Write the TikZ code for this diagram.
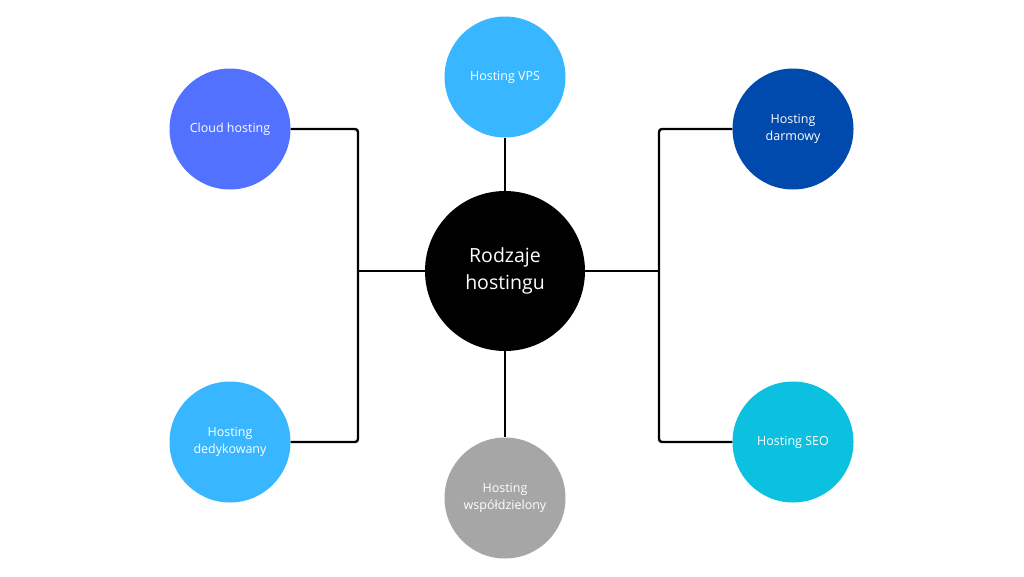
\documentclass[tikz,border=0pt]{standalone}
\usepackage{fontspec}
\setmainfont{Open Sans}
\usetikzlibrary{positioning,calc}

\definecolor{cloudblue}{HTML}{5271FF}
\definecolor{skyblue}{HTML}{38B6FF}
\definecolor{navyblue}{HTML}{004AAD}
\definecolor{tealblue}{HTML}{0CC0DF}
\definecolor{midgray}{HTML}{A6A6A6}

\begin{document}
\begin{tikzpicture}[x=1pt,y=-1pt,
  leaf/.style={circle,minimum size=121pt,inner sep=0pt,text=white,
    align=center,font=\fontsize{12.5}{17}\selectfont},
  root/.style={circle,fill=black,minimum size=160pt,inner sep=0pt,
    text=white,align=center,font=\fontsize{19.5}{27}\selectfont},
  wire/.style={line width=2.4pt,rounded corners=3pt}]

\useasboundingbox (0,0) rectangle (1024,576);

\node[root] (hub) at (505,271) {Rodzaje\\hostingu};

\node[leaf,fill=skyblue] (vps) at (505,77) {Hosting VPS};
\node[leaf,fill=midgray] (shared) at (505,498) {Hosting\\współdzielony};
\node[leaf,fill=cloudblue] (cloud) at (230,129) {Cloud hosting};
\node[leaf,fill=skyblue] (dedic) at (230,442) {Hosting\\dedykowany};
\node[leaf,fill=navyblue] (free) at (793,129) {Hosting\\darmowy};
\node[leaf,fill=tealblue] (seo) at (793,442) {Hosting SEO};

\coordinate (jleft) at (358,271);
\coordinate (jright) at (659,271);

% connectors
\draw[wire] (hub.north) -- (vps.south);
\draw[wire] (hub.south) -- (shared.north);
\draw[wire] (hub.west) -- (jleft);
\draw[wire] (hub.east) -- (jright);
\draw[wire] (cloud.east) -| (jleft) |- (dedic.east);
\draw[wire] (free.west) -| (jright) |- (seo.west);

\end{tikzpicture}
\end{document}
